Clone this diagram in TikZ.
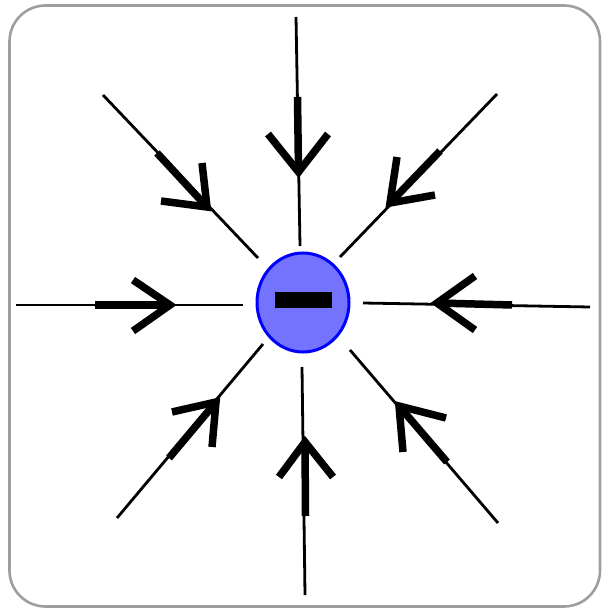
\documentclass[tikz,border=0pt]{standalone}
\usetikzlibrary{shapes.geometric}
\newcommand\fieldarrow[7]{%
  \coordinate (#1s) at (#2); \coordinate (#1e) at (#3);
  \coordinate (#1b) at (#4); \coordinate (#1t) at (#5);
  \coordinate (#1w) at (#6); \coordinate (#1v) at (#7);
  \draw[fieldline] (#1s) -- (#1e);
  \draw[shaft] (#1b) -- (#1t);
  \draw[wings] (#1w) -- (#1t) -- (#1v);}
\begin{document}
\begin{tikzpicture}[x=1pt,y=-1pt,
  frame/.style={draw=black!38,line width=2.6pt,rounded corners=36pt},
  fieldline/.style={draw=black,line width=2.8pt},
  shaft/.style={draw=black,line width=7.5pt},
  wings/.style={draw=black,line width=7.5pt,miter limit=10},
  charge/.style={ellipse,draw=blue,fill=blue!55!white,line width=3pt,minimum width=92pt,minimum height=99pt,inner sep=0pt},
  minusbar/.style={fill=black,draw=none}]
\useasboundingbox (0,0) rectangle (601,609);
\draw[frame] (9.5,5.5) rectangle (600,606.5);
% field lines: start, end, shaft start, tip, wing1, wing2
\fieldarrow{n}{296,17}{300,246}{297.5,97}{298.5,172}{268,134}{328,134}
\fieldarrow{nw}{103,95}{258,258}{157,153}{207,207}{202,163}{161,201}
\fieldarrow{w}{16,305}{243,305}{95,305}{170,305}{133,280}{133,331}
\fieldarrow{sw}{117,518}{263,344}{169,458}{216,402}{172,412}{212,447}
\fieldarrow{s}{305,595}{302,367}{305.5,516}{305,442}{279,477}{333,477}
\fieldarrow{se}{498,523}{350,350}{447,462}{399,406}{403,452}{446,418}
\fieldarrow{e}{590,307}{363,303}{512,305}{437,303}{475,276}{475,330}
\fieldarrow{ne}{497,94}{340,257}{440,151}{390,203}{397,157}{435,195}
\node[charge] (q) at (303,302.5) {};
\fill[minusbar] (275,292) rectangle (332,308);
\end{tikzpicture}
\end{document}
